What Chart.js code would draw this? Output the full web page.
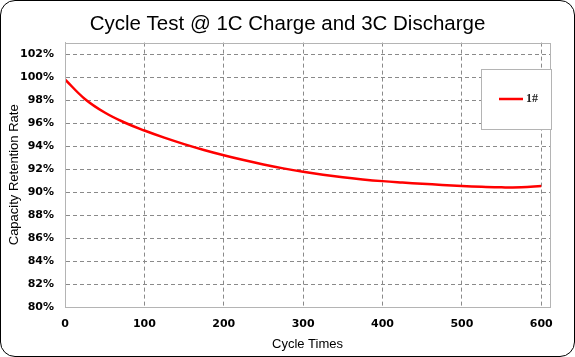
<!DOCTYPE html>
<html>
<head>
<meta charset="utf-8">
<script src="https://cdn.jsdelivr.net/npm/chart.js@4/dist/chart.umd.min.js"></script>
<style>
  html, body { margin: 0; padding: 0; background: #fff; }
  #wrap { position: relative; width: 575px; height: 357px; }
  #frame { position: absolute; left: 0; top: 0; width: 575px; height: 357px; box-sizing: border-box;
           border: 1.5px solid #000; border-radius: 15px; pointer-events: none; }
  canvas { position: absolute; left: 0; top: 0; }
</style>
</head>
<body>
<div id="wrap">
  <canvas id="c" width="575" height="357"></canvas>
  <div id="frame"></div>
</div>
<script>
const chartTitle = "Cycle Test @ 1C Charge and 3C Discharge";
const xTitle = "Cycle Times";
const yTitle = "Capacity Retention Rate";
const seriesName = "1#";
const cycles = [0, 25, 50, 75, 100, 125, 150, 175, 200, 225, 250, 275, 300, 325, 350, 375, 400, 425, 450, 475, 500, 525, 550, 575, 600];
const retention = [99.8, 98.1, 96.92, 96.05, 95.35, 94.73, 94.17, 93.66, 93.2, 92.78, 92.4, 92.06, 91.76, 91.5, 91.28, 91.1, 90.95, 90.83, 90.72, 90.62, 90.53, 90.46, 90.41, 90.41, 90.52];
const yTicks = [80, 82, 84, 86, 88, 90, 92, 94, 96, 98, 100, 102];
const xTicks = [0, 100, 200, 300, 400, 500, 600];

const points = cycles.map((c, i) => ({ x: c, y: retention[i] }));

const framePlugin = {
  id: 'framePlugin',
  afterDatasetsDraw(chart) {
    const { ctx, chartArea: a } = chart;
    ctx.save();
    ctx.strokeStyle = '#b4b4b4';
    ctx.lineWidth = 1;
    ctx.strokeRect(Math.round(a.left) + 0.5, Math.round(a.top) + 0.5, Math.round(a.right - a.left), Math.round(a.bottom - a.top));
    // legend box
    const ds = chart.data.datasets[0];
    const bx = Math.round(a.right) - 69, by = Math.round(a.top) + 26, bw = 70, bh = 60;
    ctx.fillStyle = '#fff';
    ctx.fillRect(bx, by, bw, bh);
    ctx.strokeStyle = '#b4b4b4';
    ctx.strokeRect(bx + 0.5, by + 0.5, bw, bh);
    ctx.strokeStyle = ds.borderColor;
    ctx.lineWidth = 2.5;
    ctx.beginPath();
    ctx.moveTo(bx + 18, by + 30);
    ctx.lineTo(bx + 42, by + 30);
    ctx.stroke();
    ctx.fillStyle = '#222';
    ctx.font = 'bold 12px "Liberation Serif"';
    ctx.textBaseline = 'middle';
    ctx.textAlign = 'left';
    ctx.fillText(ds.label, bx + 45, by + 30);
    ctx.restore();
  }
};

new Chart(document.getElementById('c'), {
  type: 'line',
  data: {
    datasets: [{
      label: seriesName,
      data: points,
      borderColor: '#ff0000',
      borderWidth: 2.5,
      pointRadius: 0,
      tension: 0.4,
      fill: false
    }]
  },
  options: {
    responsive: false,
    animation: false,
    layout: { padding: 0 },
    plugins: {
      legend: { display: false },
      tooltip: { enabled: false },
      title: {
        display: true,
        text: chartTitle,
        color: '#000',
        font: { family: '"Liberation Sans", Arial, sans-serif', size: 20.5, weight: 'normal', lineHeight: 1.2 },
        padding: { top: 12, bottom: 6 }
      }
    },
    scales: {
      x: {
        type: 'linear',
        min: 0,
        max: 611,
        afterBuildTicks: s => { s.ticks = xTicks.map(v => ({ value: v })); },
        afterFit: s => { s.height = 50; },
        ticks: {
          color: '#000',
          font: { family: '"DejaVu Sans", sans-serif', size: 11, weight: 'bold' },
          padding: 11,
          maxRotation: 0,
          autoSkip: false
        },
        grid: { color: '#8a8a8a', lineWidth: 1, drawTicks: false },
        border: { display: true, color: '#b4b4b4', dash: [4, 3] },
        title: {
          display: true,
          text: xTitle,
          color: '#000',
          font: { family: '"Liberation Sans", Arial, sans-serif', size: 13, lineHeight: 1.2 },
          padding: { top: 0, bottom: 5 }
        }
      },
      y: {
        type: 'linear',
        min: 80,
        max: 103,
        afterBuildTicks: s => { s.ticks = yTicks.map(v => ({ value: v })); },
        afterFit: s => { s.width = 65; },
        ticks: {
          color: '#000',
          font: { family: '"DejaVu Sans", sans-serif', size: 11, weight: 'bold' },
          padding: 11,
          autoSkip: false,
          callback: v => v + '%'
        },
        grid: { color: '#8a8a8a', lineWidth: 1, drawTicks: false },
        border: { display: true, color: '#b4b4b4', dash: [4, 3] },
        title: {
          display: true,
          text: yTitle,
          color: '#000',
          font: { family: '"Liberation Sans", Arial, sans-serif', size: 13, lineHeight: 1.2 },
          padding: { top: 7, bottom: 0 }
        }
      },
      yRight: {
        type: 'linear',
        position: 'right',
        display: true,
        afterFit: s => { s.width = 25; },
        ticks: { display: false },
        grid: { display: false, drawOnChartArea: false },
        border: { display: false },
        title: { display: false }
      }
    }
  },
  plugins: [framePlugin]
});
</script>
</body>
</html>
